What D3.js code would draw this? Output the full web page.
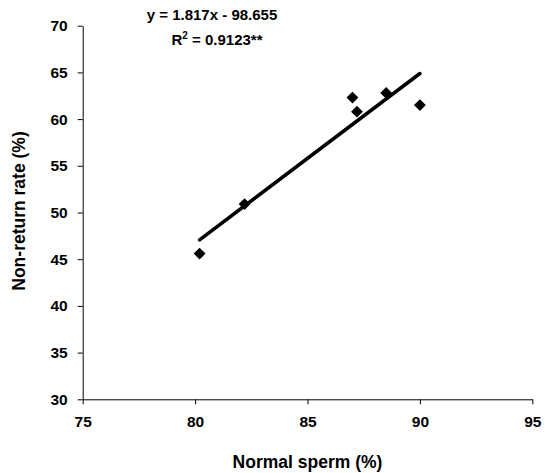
<!DOCTYPE html>
<html><head><meta charset="utf-8">
<script src="https://cdn.jsdelivr.net/npm/d3@7"></script>
<style>
body{margin:0;background:#fff;}
svg text{font-family:"Liberation Sans",Arial,sans-serif !important;font-weight:bold !important;fill:#000;}
</style></head>
<body><svg id="c" width="545" height="473"></svg>
<script>
const spermPct = [80.2, 82.2, 87.0, 87.2, 88.5, 90.0];
const nonReturn = [45.6, 50.9, 62.3, 60.8, 62.8, 61.5];
const trendX = [80.2, 90.0];
const trendY = [47.07, 64.88];
const xTicks = [75, 80, 85, 90, 95];
const yTicks = [30, 35, 40, 45, 50, 55, 60, 65, 70];

const svg = d3.select("#c");
const x = d3.scaleLinear().domain([75, 95]).range([82.7, 532.3]);
const y = d3.scaleLinear().domain([30, 70]).range([399.3, 25.7]);

const xa = svg.append("g").attr("transform","translate(0,399.3)")
  .call(d3.axisBottom(x).tickValues(xTicks).tickSize(5).tickPadding(12).tickSizeOuter(0));
const ya = svg.append("g").attr("transform","translate(82.7,0)")
  .call(d3.axisLeft(y).tickValues(yTicks).tickSize(5).tickPadding(10).tickSizeOuter(0));
[xa, ya].forEach(a => {
  a.attr("font-family", "Liberation Sans, Arial, sans-serif").attr("font-weight", "bold").attr("font-size", 15.5);
  a.selectAll("path,line").attr("stroke","#000").attr("stroke-width",1);
  a.selectAll("text").attr("font-weight","bold").style("font-size","15.5px").attr("fill","#000");
});

svg.append("path")
  .attr("d", d3.line().x(d=>x(d[0])).y(d=>y(d[1]))(trendX.map((v,i)=>[v,trendY[i]])))
  .attr("stroke","#000").attr("stroke-width",3.5).attr("fill","none").attr("stroke-linecap","round");

svg.selectAll(".pt").data(spermPct).enter().append("path")
  .attr("d", d3.symbol().type(d3.symbolSquare).size(70))
  .attr("transform",(d,i)=>`translate(${x(d)},${y(nonReturn[i])}) rotate(45)`)
  .attr("fill","#000");

svg.append("text").attr("x",307.5).attr("y",468).attr("text-anchor","middle").style("font-size","17.5px").text("Normal sperm (%)");
svg.append("text").attr("transform","translate(25,211) rotate(-90)").attr("text-anchor","middle").style("font-size","17.5px").text("Non-return rate (%)");

svg.append("text").attr("x",212).attr("y",20).attr("text-anchor","middle").style("font-size","15px").text("y = 1.817x - 98.655");
const r = svg.append("text").attr("x",217).attr("y",45).attr("text-anchor","middle").style("font-size","15px");
r.append("tspan").text("R");
r.append("tspan").attr("dy",-6).style("font-size","10px").text("2");
r.append("tspan").attr("dy",6).text(" = 0.9123**");
</script></body></html>
